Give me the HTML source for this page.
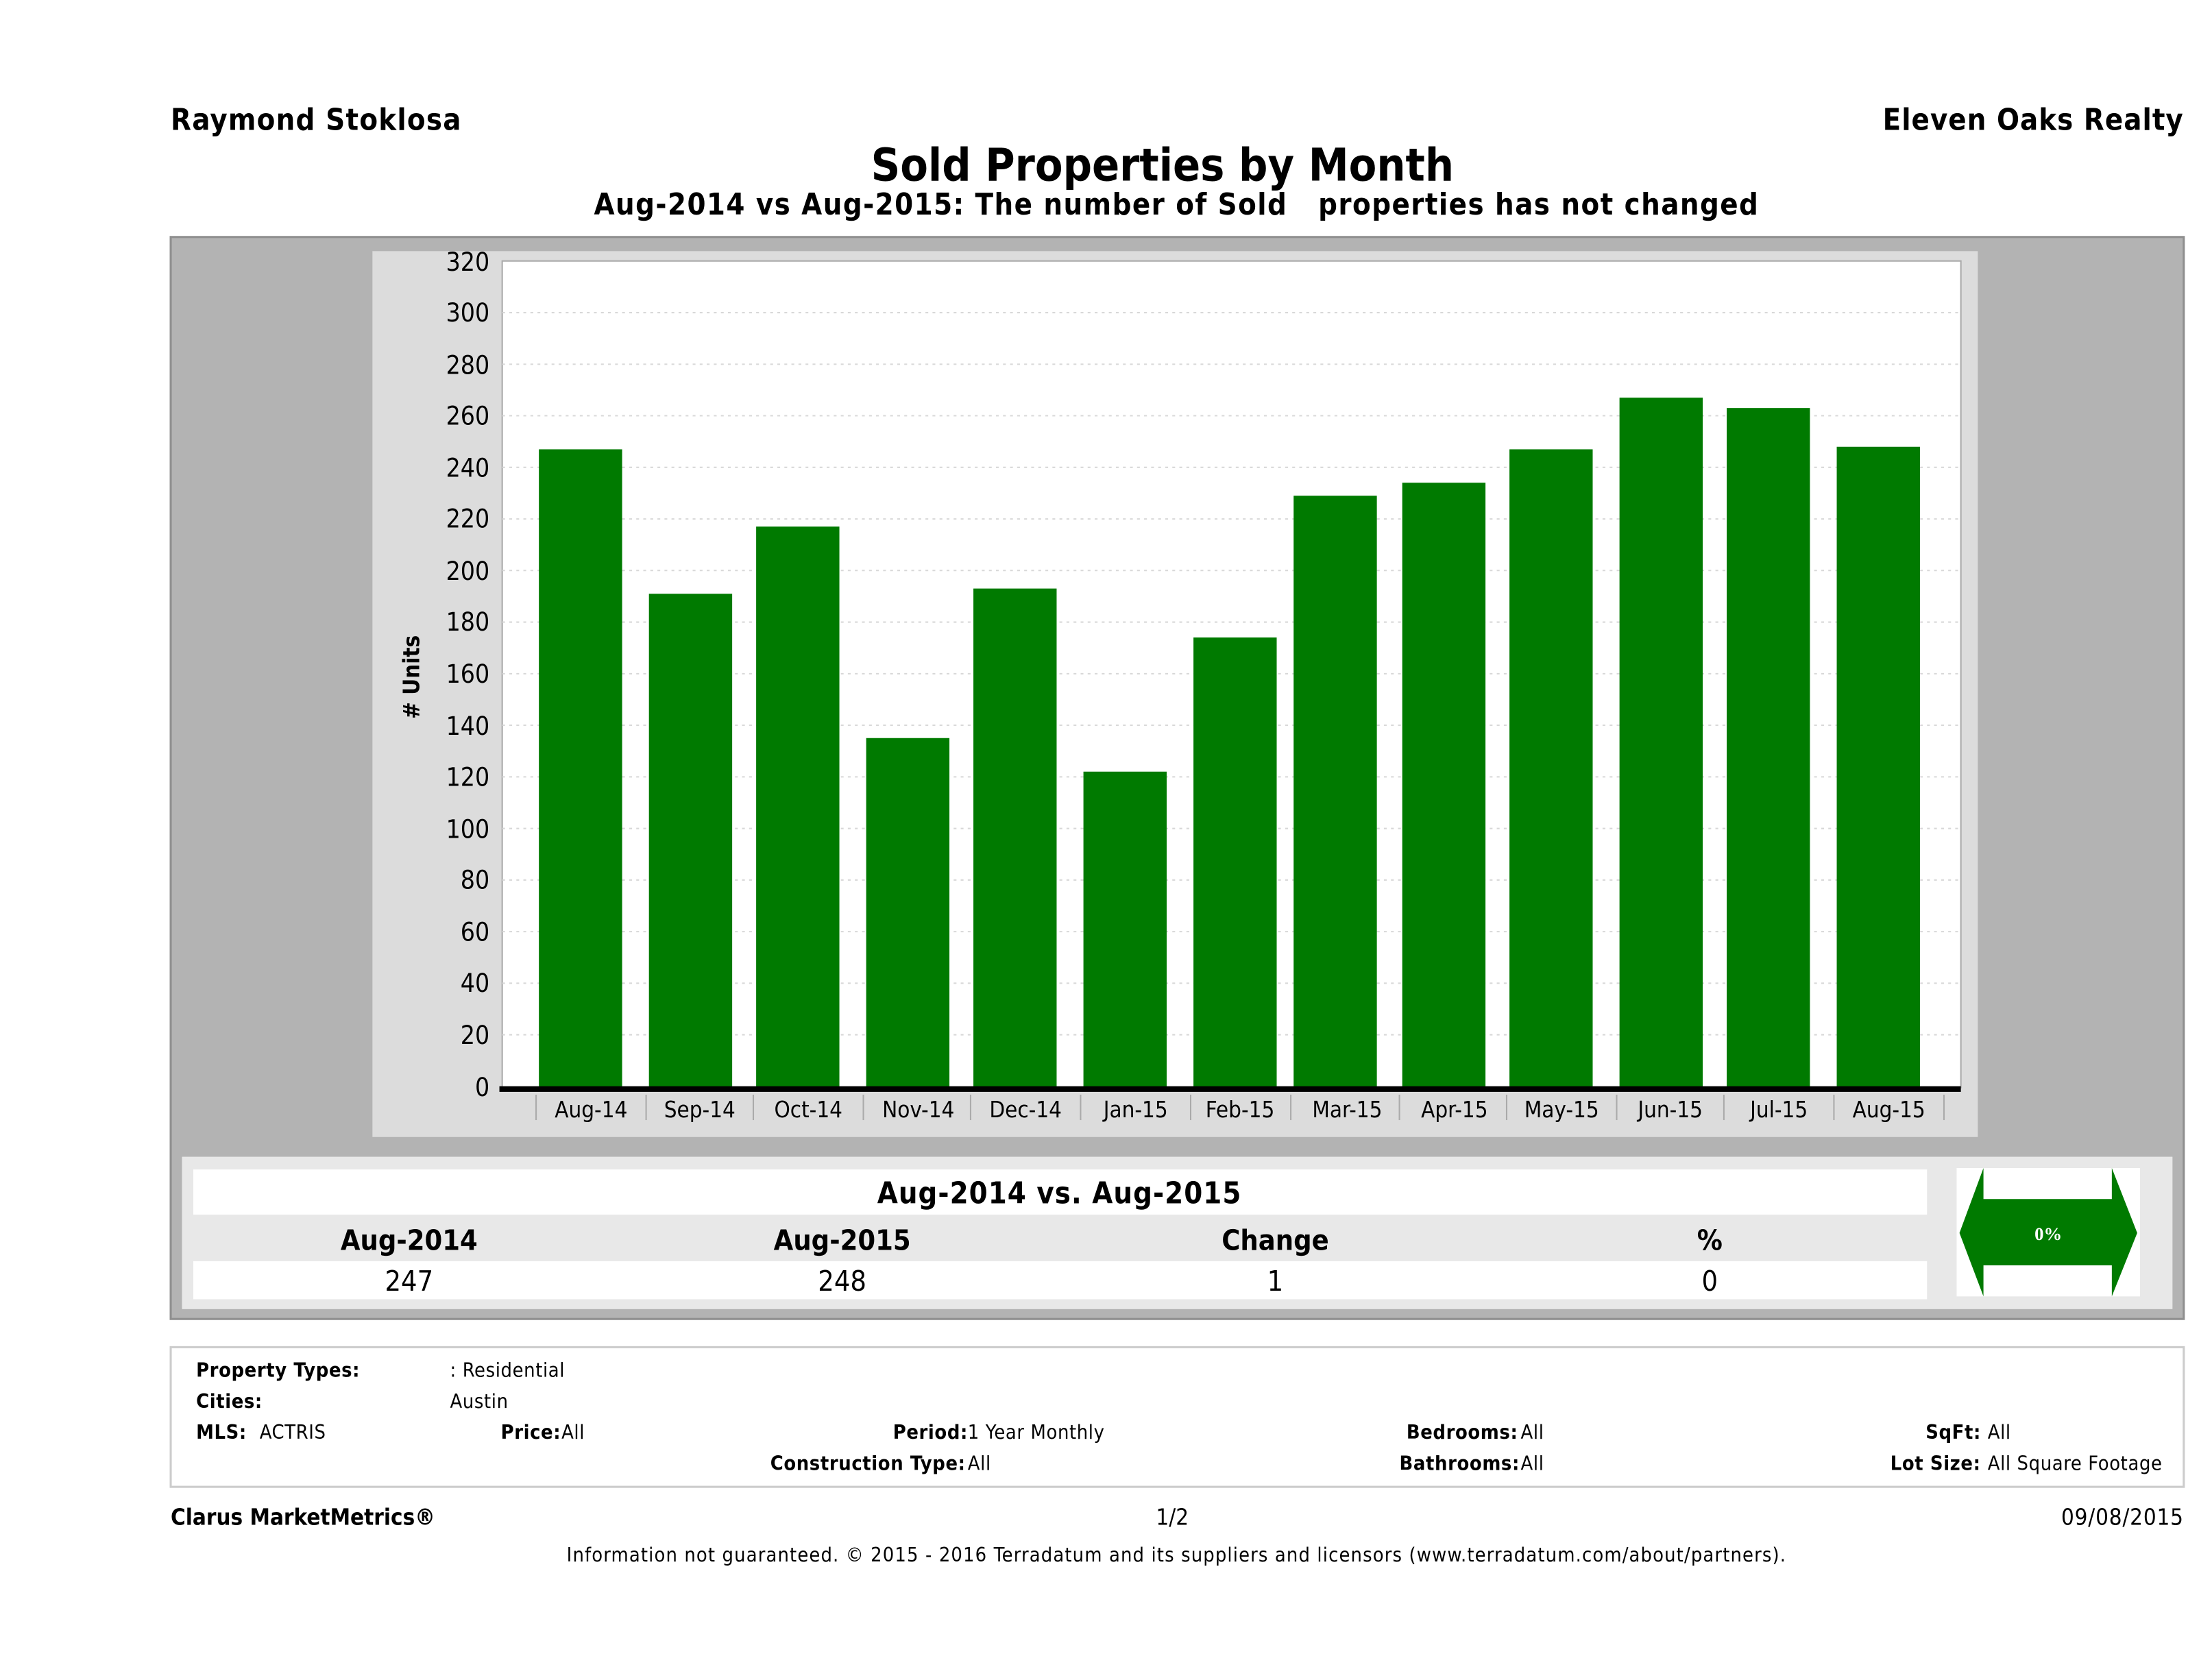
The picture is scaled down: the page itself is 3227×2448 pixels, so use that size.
<!DOCTYPE html>
<html><head><meta charset="utf-8"><style>
html,body{margin:0;padding:0;background:#fff}
svg{display:block}
text{font-family:"DejaVu Sans Condensed","DejaVu Sans","Liberation Sans",sans-serif;fill:#000}
.b{font-weight:bold}
</style></head><body>
<svg width="3227" height="2448" viewBox="0 0 1568 1189.5" xmlns="http://www.w3.org/2000/svg">
<rect width="1568" height="1190" fill="#fff"/>
<text x="121" y="92" font-size="21" class="b" letter-spacing="0.6">Raymond Stoklosa</text>
<text x="1548" y="92" font-size="21" class="b" text-anchor="end" letter-spacing="0.5">Eleven Oaks Realty</text>
<text x="824" y="128" font-size="32" class="b" text-anchor="middle">Sold Properties by Month</text>
<text x="834" y="152" font-size="21" class="b" text-anchor="middle" letter-spacing="0.7" xml:space="preserve">Aug-2014 vs Aug-2015: The number of Sold   properties has not changed</text>

<rect x="121" y="168" width="1427" height="767" fill="#b3b3b3" stroke="#8f8f8f" stroke-width="1.5"/>
<rect x="264" y="178" width="1138" height="628" fill="#dcdcdc"/>
<rect x="356" y="185" width="1034" height="586" fill="#fff" stroke="#aaa" stroke-width="1"/>
<g stroke="#d8d8d8" stroke-dasharray="2,3" stroke-width="1">
<line x1="356" x2="1390" y1="221.6" y2="221.6"/><line x1="356" x2="1390" y1="258.2" y2="258.2"/>
<line x1="356" x2="1390" y1="294.7" y2="294.7"/><line x1="356" x2="1390" y1="331.3" y2="331.3"/>
<line x1="356" x2="1390" y1="367.9" y2="367.9"/><line x1="356" x2="1390" y1="404.4" y2="404.4"/>
<line x1="356" x2="1390" y1="441" y2="441"/><line x1="356" x2="1390" y1="477.6" y2="477.6"/>
<line x1="356" x2="1390" y1="514.1" y2="514.1"/><line x1="356" x2="1390" y1="550.7" y2="550.7"/>
<line x1="356" x2="1390" y1="587.3" y2="587.3"/><line x1="356" x2="1390" y1="623.8" y2="623.8"/>
<line x1="356" x2="1390" y1="660.4" y2="660.4"/><line x1="356" x2="1390" y1="697" y2="697"/>
<line x1="356" x2="1390" y1="733.5" y2="733.5"/>
</g>
<g font-size="18" text-anchor="end">
<text x="347" y="192">320</text><text x="347" y="228">300</text><text x="347" y="265">280</text>
<text x="347" y="301">260</text><text x="347" y="338">240</text><text x="347" y="374">220</text>
<text x="347" y="411">200</text><text x="347" y="447">180</text><text x="347" y="484">160</text>
<text x="347" y="521">140</text><text x="347" y="557">120</text><text x="347" y="594">100</text>
<text x="347" y="630">80</text><text x="347" y="667">60</text><text x="347" y="703">40</text>
<text x="347" y="740">20</text><text x="347" y="777">0</text>
</g>
<text transform="translate(297,480) rotate(-90)" font-size="16" class="b" text-anchor="middle"># Units</text>
<g fill="#007a00">
<rect x="382" y="318.5" width="59" height="452"/>
<rect x="460" y="420.9" width="59" height="350"/>
<rect x="536" y="373.3" width="59" height="398"/>
<rect x="614" y="523.2" width="59" height="248"/>
<rect x="690" y="417.2" width="59" height="354"/>
<rect x="768" y="547" width="59" height="224"/>
<rect x="846" y="451.9" width="59" height="319"/>
<rect x="917" y="351.4" width="59" height="420"/>
<rect x="994" y="342.2" width="59" height="429"/>
<rect x="1070" y="318.5" width="59" height="452"/>
<rect x="1148" y="281.9" width="59" height="489"/>
<rect x="1224" y="289.2" width="59" height="482"/>
<rect x="1302" y="316.7" width="59" height="454"/>
</g>
<rect x="354" y="770" width="1036" height="4" fill="#000"/>
<g stroke="#aaa"><line x1="380" x2="380" y1="776" y2="794"/><line x1="458" x2="458" y1="776" y2="794"/><line x1="534" x2="534" y1="776" y2="794"/><line x1="612" x2="612" y1="776" y2="794"/><line x1="688" x2="688" y1="776" y2="794"/><line x1="766" x2="766" y1="776" y2="794"/><line x1="844" x2="844" y1="776" y2="794"/><line x1="915" x2="915" y1="776" y2="794"/><line x1="992" x2="992" y1="776" y2="794"/><line x1="1068" x2="1068" y1="776" y2="794"/><line x1="1146" x2="1146" y1="776" y2="794"/><line x1="1222" x2="1222" y1="776" y2="794"/><line x1="1300" x2="1300" y1="776" y2="794"/><line x1="1378" x2="1378" y1="776" y2="794"/></g>
<g font-size="16" text-anchor="middle">
<text x="419" y="792">Aug-14</text><text x="496" y="792">Sep-14</text><text x="573" y="792">Oct-14</text>
<text x="651" y="792">Nov-14</text><text x="727" y="792">Dec-14</text><text x="805" y="792">Jan-15</text>
<text x="879" y="792">Feb-15</text><text x="955" y="792">Mar-15</text><text x="1031" y="792">Apr-15</text>
<text x="1107" y="792">May-15</text><text x="1184" y="792">Jun-15</text><text x="1261" y="792">Jul-15</text>
<text x="1339" y="792">Aug-15</text>
</g>

<rect x="129" y="820" width="1411" height="108" fill="#e8e8e8"/>
<rect x="137" y="829" width="1229" height="32" fill="#fff"/>
<rect x="137" y="894" width="1229" height="27" fill="#fff"/>
<text x="751" y="853" font-size="21" class="b" text-anchor="middle" letter-spacing="0.5">Aug-2014 vs. Aug-2015</text>
<g font-size="20" class="b" text-anchor="middle">
<text x="290" y="886">Aug-2014</text><text x="597" y="886">Aug-2015</text>
<text x="904" y="886">Change</text><text x="1212" y="886">%</text>
</g>
<g font-size="20" text-anchor="middle">
<text x="290" y="915">247</text><text x="597" y="915">248</text>
<text x="904" y="915">1</text><text x="1212" y="915">0</text>
</g>
<rect x="1387" y="828" width="130" height="91" fill="#fff"/>
<polygon points="1389,874 1406,828 1406,850 1497,850 1497,828 1515,874 1497,919 1497,897 1406,897 1406,919" fill="#007a00"/>
<text x="1452" y="879" font-size="13" class="b" text-anchor="middle" style="fill:#fff;font-family:'Liberation Serif',serif">0%</text>

<rect x="121" y="955" width="1427" height="99" fill="#fff" stroke="#ccc" stroke-width="1.5"/>
<g font-size="14" letter-spacing="0.3">
<text x="139" y="976" class="b">Property Types:</text><text x="319" y="976">: Residential</text>
<text x="139" y="998" class="b">Cities:</text><text x="319" y="998">Austin</text>
<text x="139" y="1020" class="b">MLS:</text><text x="184" y="1020">ACTRIS</text>
<text x="355" y="1020" class="b">Price:</text><text x="398" y="1020">All</text>
<text x="633" y="1020" class="b">Period:</text><text x="686" y="1020">1 Year Monthly</text>
<text x="997" y="1020" class="b">Bedrooms:</text><text x="1078" y="1020">All</text>
<text x="1365" y="1020" class="b">SqFt:</text><text x="1409" y="1020">All</text>
<text x="546" y="1042" class="b">Construction Type:</text><text x="686" y="1042">All</text>
<text x="992" y="1042" class="b">Bathrooms:</text><text x="1078" y="1042">All</text>
<text x="1340" y="1042" class="b">Lot Size:</text><text x="1409" y="1042">All Square Footage</text>
</g>
<text x="121" y="1081" font-size="16" class="b">Clarus MarketMetrics®</text>
<text x="831" y="1081" font-size="16" text-anchor="middle">1/2</text>
<text x="1548" y="1081" font-size="16" text-anchor="end" letter-spacing="0.4">09/08/2015</text>
<text x="834" y="1107" font-size="14" text-anchor="middle" letter-spacing="0.55">Information not guaranteed. © 2015 - 2016 Terradatum and its suppliers and licensors (www.terradatum.com/about/partners).</text>
</svg>
</body></html>
